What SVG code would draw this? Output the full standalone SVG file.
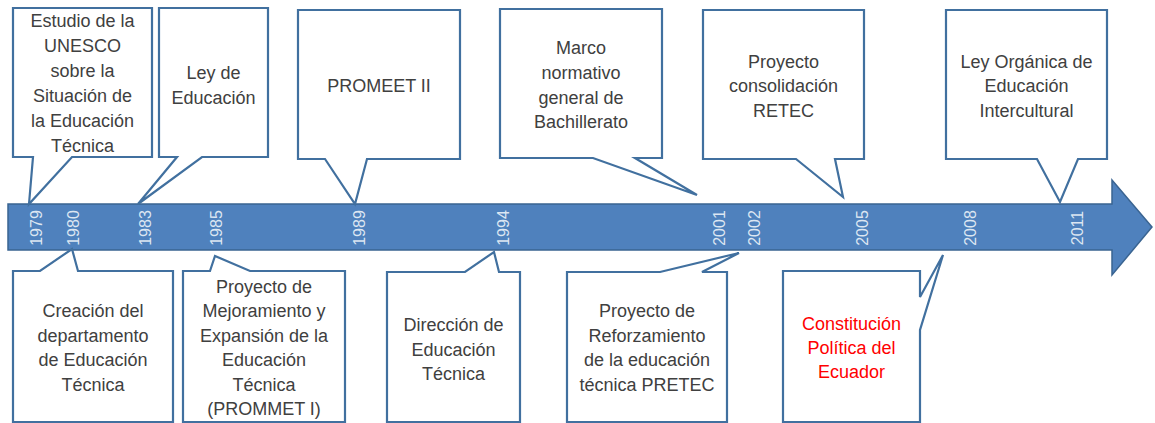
<svg xmlns="http://www.w3.org/2000/svg" width="1155" height="423" viewBox="0 0 1155 423">
<style>
.bg{fill:#ffffff}
.co{fill:#ffffff;stroke:#41709F;stroke-width:2.2;stroke-linejoin:miter}
.t{font-family:"Liberation Sans",Arial,sans-serif;font-size:18px;fill:#404040;text-anchor:middle}
.red{fill:#FF0000}
.band{fill:#4F81BD;stroke:#3A6491;stroke-width:1.5}
.yr{font-family:"Liberation Sans",Arial,sans-serif;font-size:16px;fill:#DCE6F2;text-anchor:middle}
</style>
<rect class="bg" x="0" y="0" width="1155" height="423"/>
<g id="timeline">
<path class="band" d="M8,204 H1112 V180 L1152,227 L1112,275 V250 H8 Z"/>
<g id="years">
<text class="yr" transform="translate(42,228) rotate(-90)">1979</text>
<text class="yr" transform="translate(79,228) rotate(-90)">1980</text>
<text class="yr" transform="translate(151,228) rotate(-90)">1983</text>
<text class="yr" transform="translate(222,228) rotate(-90)">1985</text>
<text class="yr" transform="translate(365,228) rotate(-90)">1989</text>
<text class="yr" transform="translate(509,228) rotate(-90)">1994</text>
<text class="yr" transform="translate(725,228) rotate(-90)">2001</text>
<text class="yr" transform="translate(760,228) rotate(-90)">2002</text>
<text class="yr" transform="translate(868,228) rotate(-90)">2005</text>
<text class="yr" transform="translate(976,228) rotate(-90)">2008</text>
<text class="yr" transform="translate(1083,228) rotate(-90)">2011</text>
</g>
</g>
<g id="n1979">
<path class="co" d="M13,8 H152 V157 H72 L29,204 L33,157 H13 Z"/>
<text class="t" x="82.5"><tspan x="82.5" y="27">Estudio de la</tspan><tspan x="82.5" y="52">UNESCO</tspan><tspan x="82.5" y="77">sobre la</tspan><tspan x="82.5" y="102">Situación de</tspan><tspan x="82.5" y="127">la Educación</tspan><tspan x="82.5" y="152">Técnica</tspan></text>
</g>
<g id="n1983">
<path class="co" d="M159,8 H268 V157 H202 L138,204 L177,157 H159 Z"/>
<text class="t"><tspan x="213.5" y="79">Ley de</tspan><tspan x="213.5" y="104">Educación</tspan></text>
</g>
<g id="n1989">
<path class="co" d="M298,10 H460 V159 H367 L355,204 L325,159 H298 Z"/>
<text class="t" x="379" y="92">PROMEET II</text>
</g>
<g id="n2001">
<path class="co" d="M500,9 H662 V158 H635 L697,195 L593,158 H500 Z"/>
<text class="t"><tspan x="581" y="54">Marco</tspan><tspan x="581" y="79">normativo</tspan><tspan x="581" y="103.5">general de</tspan><tspan x="581" y="128">Bachillerato</tspan></text>
</g>
<g id="n2005">
<path class="co" d="M703,10 H864 V159 H835 L843,197 L796,159 H703 Z"/>
<text class="t"><tspan x="783.5" y="67.5">Proyecto</tspan><tspan x="783.5" y="92">consolidación</tspan><tspan x="783.5" y="116.5">RETEC</tspan></text>
</g>
<g id="n2011">
<path class="co" d="M946,10 H1107 V159 H1078 L1060,202 L1037,159 H946 Z"/>
<text class="t"><tspan x="1026.5" y="67.5">Ley Orgánica de</tspan><tspan x="1026.5" y="92">Educación</tspan><tspan x="1026.5" y="116.5">Intercultural</tspan></text>
</g>
<g id="n1980">
<path class="co" d="M13,271 H40 L72,249 L78,271 H173 V422 H13 Z"/>
<text class="t"><tspan x="93" y="317">Creación del</tspan><tspan x="93" y="341.5">departamento</tspan><tspan x="93" y="366">de Educación</tspan><tspan x="93" y="390.5">Técnica</tspan></text>
</g>
<g id="n1985">
<path class="co" d="M183,271 H210 L215,256 L250,271 H345 V422 H183 Z"/>
<text class="t"><tspan x="264" y="293">Proyecto de</tspan><tspan x="264" y="317">Mejoramiento y</tspan><tspan x="264" y="341.5">Expansión de la</tspan><tspan x="264" y="366">Educación</tspan><tspan x="264" y="390.5">Técnica</tspan><tspan x="264" y="415">(PROMMET I)</tspan></text>
</g>
<g id="n1994">
<path class="co" d="M387,272 H465 L494,252 L499,272 H520 V422 H387 Z"/>
<text class="t"><tspan x="453.5" y="331">Dirección de</tspan><tspan x="453.5" y="355.5">Educación</tspan><tspan x="453.5" y="380">Técnica</tspan></text>
</g>
<g id="n2002">
<path class="co" d="M567,272 H660 L739,253 L702,272 H727 V422 H567 Z"/>
<text class="t"><tspan x="647" y="317">Proyecto de</tspan><tspan x="647" y="341.5">Reforzamiento</tspan><tspan x="647" y="366">de la educación</tspan><tspan x="647" y="390.5">técnica PRETEC</tspan></text>
</g>
<g id="n2008">
<path class="co" d="M783,271 H920 V297 L943,255 L920,330 V422 H783 Z"/>
<text class="t red"><tspan x="851.5" y="330">Constitución</tspan><tspan x="851.5" y="354">Política del</tspan><tspan x="851.5" y="378">Ecuador</tspan></text>
</g>
</svg>
